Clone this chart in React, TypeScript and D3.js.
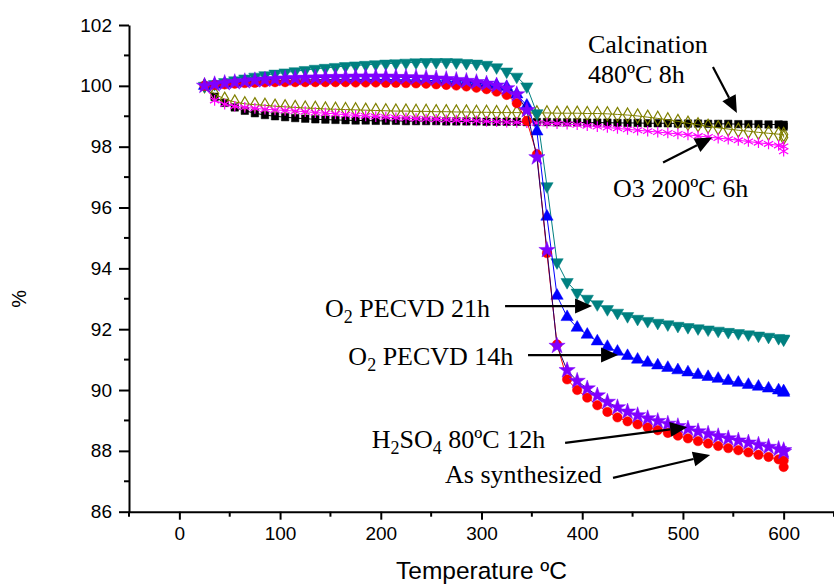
import React, { Component } from 'react';
import * as d3 from 'd3';

// temperature grid (ºC) - last point repeated for the isothermal hold at 600
const temps = [
  25, 35, 45, 55, 65, 75, 85, 95, 105, 115,
  125, 135, 145, 155, 165, 175, 185, 195, 205, 215,
  225, 235, 245, 255, 265, 275, 285, 295, 305, 315,
  325, 335, 345, 355, 365, 375, 385, 395, 405, 415,
  425, 435, 445, 455, 465, 475, 485, 495, 505, 515,
  525, 535, 545, 555, 565, 575, 585, 595, 600, 600,
];

const asSynthesized = [
  100.00, 100.03, 100.05, 100.07, 100.09, 100.10, 100.11, 100.12, 100.12, 100.12,
  100.12, 100.12, 100.12, 100.12, 100.12, 100.11, 100.11, 100.11, 100.10, 100.10,
  100.09, 100.08, 100.07, 100.05, 100.03, 100.01, 99.98, 99.94, 99.89, 99.81,
  99.70, 99.43, 98.85, 97.75, 94.50, 91.50, 90.35, 90.00, 89.75, 89.50,
  89.28, 89.10, 88.97, 88.87, 88.77, 88.68, 88.59, 88.50, 88.41, 88.32,
  88.24, 88.16, 88.09, 88.02, 87.95, 87.87, 87.80, 87.72, 87.68, 87.47,
];

const h2so4 = [
  100.00, 100.05, 100.09, 100.12, 100.15, 100.18, 100.20, 100.22, 100.24, 100.25,
  100.26, 100.27, 100.28, 100.29, 100.29, 100.30, 100.30, 100.30, 100.30, 100.29,
  100.28, 100.27, 100.26, 100.24, 100.22, 100.19, 100.16, 100.12, 100.07, 100.01,
  99.92, 99.72, 99.20, 97.65, 94.60, 91.45, 90.65, 90.30, 90.05, 89.82,
  89.61, 89.43, 89.29, 89.17, 89.07, 88.98, 88.89, 88.81, 88.73, 88.64,
  88.56, 88.48, 88.41, 88.34, 88.27, 88.20, 88.13, 88.06, 88.02, 87.97,
];

const pecvd14 = [
  100.00, 100.04, 100.07, 100.10, 100.12, 100.14, 100.16, 100.17, 100.18, 100.19,
  100.20, 100.20, 100.21, 100.21, 100.21, 100.21, 100.21, 100.21, 100.21, 100.20,
  100.20, 100.19, 100.18, 100.17, 100.16, 100.14, 100.12, 100.09, 100.06, 100.02,
  99.96, 99.72, 99.35, 98.50, 95.70, 93.10, 92.40, 92.05, 91.82, 91.60,
  91.42, 91.26, 91.12, 91.00, 90.90, 90.81, 90.73, 90.65, 90.58, 90.50,
  90.43, 90.37, 90.30, 90.24, 90.17, 90.11, 90.05, 89.99, 89.96, 89.91,
];

const pecvd21 = [
  100.00, 100.06, 100.12, 100.18, 100.24, 100.30, 100.35, 100.40, 100.44, 100.48,
  100.52, 100.56, 100.59, 100.62, 100.65, 100.67, 100.69, 100.71, 100.73, 100.74,
  100.76, 100.77, 100.78, 100.78, 100.78, 100.77, 100.75, 100.73, 100.69, 100.61,
  100.47, 100.30, 99.98, 99.10, 96.70, 94.20, 93.55, 93.20, 93.00, 92.82,
  92.66, 92.54, 92.43, 92.34, 92.27, 92.21, 92.16, 92.11, 92.07, 92.03,
  91.99, 91.95, 91.91, 91.87, 91.83, 91.79, 91.75, 91.71, 91.69, 91.66,
];

const calcination = [
  100.00, 99.64, 99.44, 99.29, 99.18, 99.10, 99.04, 99.00, 98.97, 98.94,
  98.92, 98.90, 98.89, 98.88, 98.87, 98.86, 98.86, 98.85, 98.85, 98.85,
  98.84, 98.84, 98.84, 98.84, 98.83, 98.83, 98.83, 98.83, 98.82, 98.82,
  98.82, 98.82, 98.81, 98.81, 98.81, 98.80, 98.80, 98.80, 98.79, 98.79,
  98.79, 98.78, 98.78, 98.78, 98.77, 98.77, 98.77, 98.76, 98.76, 98.76,
  98.75, 98.75, 98.75, 98.74, 98.74, 98.74, 98.73, 98.73, 98.72, 98.66,
];

// olive curve, no label in the figure
const unlabeled = [
  100.00, 99.74, 99.56, 99.47, 99.41, 99.38, 99.36, 99.33, 99.31, 99.29,
  99.27, 99.26, 99.24, 99.23, 99.22, 99.21, 99.20, 99.19, 99.18, 99.17,
  99.17, 99.16, 99.16, 99.15, 99.15, 99.14, 99.14, 99.13, 99.13, 99.12,
  99.12, 99.12, 99.11, 99.11, 99.11, 99.10, 99.10, 99.10, 99.09, 99.09,
  99.08, 99.06, 99.04, 99.01, 98.97, 98.93, 98.88, 98.83, 98.77, 98.72,
  98.67, 98.62, 98.58, 98.54, 98.51, 98.47, 98.44, 98.41, 98.40, 98.30,
];

const ozone = [
  100.00, 99.52, 99.40, 99.33, 99.29, 99.26, 99.23, 99.21, 99.19, 99.17,
  99.15, 99.12, 99.10, 99.08, 99.05, 99.03, 99.01, 98.99, 98.97, 98.95,
  98.94, 98.92, 98.91, 98.90, 98.88, 98.87, 98.86, 98.85, 98.83, 98.82,
  98.81, 98.80, 98.79, 98.78, 98.77, 98.76, 98.74, 98.72, 98.69, 98.66,
  98.63, 98.60, 98.57, 98.54, 98.51, 98.48, 98.45, 98.42, 98.39, 98.35,
  98.32, 98.28, 98.25, 98.21, 98.17, 98.13, 98.09, 98.04, 98.01, 97.85,
];

const xTicks = [0, 100, 200, 300, 400, 500, 600];
const xMinorTicks = [-50, 50, 150, 250, 350, 450, 550, 650];
const yTicks = [86, 88, 90, 92, 94, 96, 98, 100, 102];
const yMinorTicks = [87, 89, 91, 93, 95, 97, 99, 101];

class TgaChart extends Component {
  svgRef = React.createRef<SVGSVGElement>();
  width = 834;
  height = 585;

  componentDidMount() {
    this.draw();
  }

  draw() {
    const svg = d3.select(this.svgRef.current);
    svg.selectAll('*').remove();

    const x = d3.scaleLinear().domain([-50, 650]).range([129, 834]);
    const y = d3.scaleLinear().domain([86, 102]).range([511.7, 25]);

    const sans = 'Liberation Sans, Arial, sans-serif';
    const serif = 'Liberation Serif, Times New Roman, serif';

    // series, in drawing order
    const series = [
      { values: calcination, color: '#000000', line: '#000000', type: d3.symbolSquare, size: 56, fill: true, rot: 0 },
      { values: unlabeled, color: '#808000', line: '#808000', type: d3.symbolDiamond, size: 58, fill: false, rot: 0 },
      { values: ozone, color: '#ff00ff', line: '#ff00ff', type: d3.symbolAsterisk, size: 80, fill: false, rot: 0 },
      { values: pecvd21, color: '#008080', line: '#008080', type: d3.symbolTriangle, size: 66, fill: true, rot: 180 },
      { values: pecvd14, color: '#0000ff', line: '#0000ff', type: d3.symbolTriangle, size: 66, fill: true, rot: 0 },
      { values: asSynthesized, color: '#ff0000', line: '#ff0000', type: d3.symbolCircle, size: 70, fill: true, rot: 0 },
      { values: h2so4, color: '#8000ff', line: '#20006e', type: d3.symbolStar, size: 82, fill: true, rot: 0 },
    ];

    const line = d3.line<number>()
      .x((d, i) => x(temps[i]))
      .y(d => y(d));

    series.forEach(s => {
      const g = svg.append('g');
      g.append('path')
        .attr('d', line(s.values))
        .attr('fill', 'none')
        .attr('stroke', s.line)
        .attr('stroke-width', 1);

      const sym = d3.symbol().type(s.type).size(s.size)();
      g.selectAll('path.mk')
        .data(s.values)
        .enter()
        .append('path')
        .attr('class', 'mk')
        .attr('d', sym)
        .attr('transform', (d, i) => 'translate(' + x(temps[i]) + ',' + y(d) + ') rotate(' + s.rot + ')')
        .attr('fill', s.fill ? s.color : 'none')
        .attr('stroke', s.color)
        .attr('stroke-width', s.fill ? 0.5 : 1.2);
    });

    // axes
    const xAxis = svg.append('g')
      .attr('transform', 'translate(0,' + y(86) + ')')
      .call(d3.axisBottom(x).tickValues(xTicks).tickSize(8).tickSizeOuter(0).tickPadding(7)
        .tickFormat(d => String(d)));
    xAxis.select('.domain').attr('stroke-width', 2);
    xAxis.selectAll('.tick line').attr('stroke-width', 2);
    xAxis.selectAll('.tick text').attr('font-family', sans).attr('font-size', 19).attr('fill', '#000');
    xAxis.selectAll('.minor')
      .data(xMinorTicks)
      .enter()
      .append('line')
      .attr('x1', d => x(d)).attr('x2', d => x(d))
      .attr('y1', 0).attr('y2', 5)
      .attr('stroke', '#000').attr('stroke-width', 2);

    const yAxis = svg.append('g')
      .attr('transform', 'translate(' + x(-50) + ',0)')
      .call(d3.axisLeft(y).tickValues(yTicks).tickSize(10).tickSizeOuter(0).tickPadding(7)
        .tickFormat(d => String(d)));
    yAxis.select('.domain').attr('stroke-width', 2);
    yAxis.selectAll('.tick line').attr('stroke-width', 2);
    yAxis.selectAll('.tick text').attr('font-family', sans).attr('font-size', 19).attr('fill', '#000');
    yAxis.selectAll('.minor')
      .data(yMinorTicks)
      .enter()
      .append('line')
      .attr('y1', d => y(d)).attr('y2', d => y(d))
      .attr('x1', 0).attr('x2', -5)
      .attr('stroke', '#000').attr('stroke-width', 2);

    // axis titles
    svg.append('text')
      .attr('x', x(300))
      .attr('y', 579)
      .attr('text-anchor', 'middle')
      .attr('font-family', sans)
      .attr('font-size', 24.5)
      .text('Temperature ºC');

    svg.append('text')
      .attr('transform', 'translate(26,' + y(93) + ') rotate(-90)')
      .attr('text-anchor', 'middle')
      .attr('font-family', sans)
      .attr('font-size', 20)
      .text('%');

    // annotations, positions in data units
    const labels = [
      { t: 405.7, v: 101.08, parts: [['Calcination', false]] },
      { t: 405.7, v: 100.08, parts: [['480ºC 8h', false]] },
      { t: 430.6, v: 96.36, parts: [['O3 200ºC 6h', false]] },
      { t: 144.7, v: 92.41, parts: [['O', false], ['2', true], [' PECVD 21h', false]] },
      { t: 167.8, v: 90.82, parts: [['O', false], ['2', true], [' PECVD 14h', false]] },
      { t: 191.0, v: 88.08, parts: [['H', false], ['2', true], ['SO', false], ['4', true], [' 80ºC 12h', false]] },
      { t: 263.8, v: 86.93, parts: [['As synthesized', false]] },
    ];

    labels.forEach(l => {
      const txt = svg.append('text')
        .attr('x', x(l.t))
        .attr('y', y(l.v))
        .attr('font-family', serif)
        .attr('font-size', 26);
      let shifted = false;
      l.parts.forEach(p => {
        const sub = p[1] as boolean;
        const ts = txt.append('tspan').text(p[0] as string);
        if (sub) {
          ts.attr('font-size', 18).attr('dy', 6);
          shifted = true;
        } else if (shifted) {
          ts.attr('dy', -6);
          shifted = false;
        }
      });
    });

    const arrows = [
      [529.8, 100.62, 553.6, 99.11],
      [480.3, 97.48, 529.0, 98.30],
      [323.4, 92.76, 409.8, 92.76],
      [346.2, 91.15, 435.6, 91.15],
      [383.0, 88.26, 504.2, 88.78],
      [430.6, 87.11, 527.0, 87.86],
    ];

    const headLen = 17;
    const headHalf = 7.5;
    arrows.forEach(a => {
      const x1 = x(a[0]), y1 = y(a[1]), x2 = x(a[2]), y2 = y(a[3]);
      const ang = Math.atan2(y2 - y1, x2 - x1);
      const bx = x2 - headLen * Math.cos(ang);
      const by = y2 - headLen * Math.sin(ang);
      svg.append('line')
        .attr('x1', x1).attr('y1', y1)
        .attr('x2', bx).attr('y2', by)
        .attr('stroke', '#000')
        .attr('stroke-width', 2.2);
      const px = -Math.sin(ang) * headHalf;
      const py = Math.cos(ang) * headHalf;
      svg.append('polygon')
        .attr('points', [[x2, y2], [bx + px, by + py], [bx - px, by - py]].map(p => p.join(',')).join(' '))
        .attr('fill', '#000');
    });
  }

  render() {
    return (
      <svg
        ref={this.svgRef}
        width={this.width}
        height={this.height}
        style={{ position: 'absolute', left: 0, top: 0, background: '#fff' }}
      />
    );
  }
}

export default function App() {
  return <TgaChart />;
}
